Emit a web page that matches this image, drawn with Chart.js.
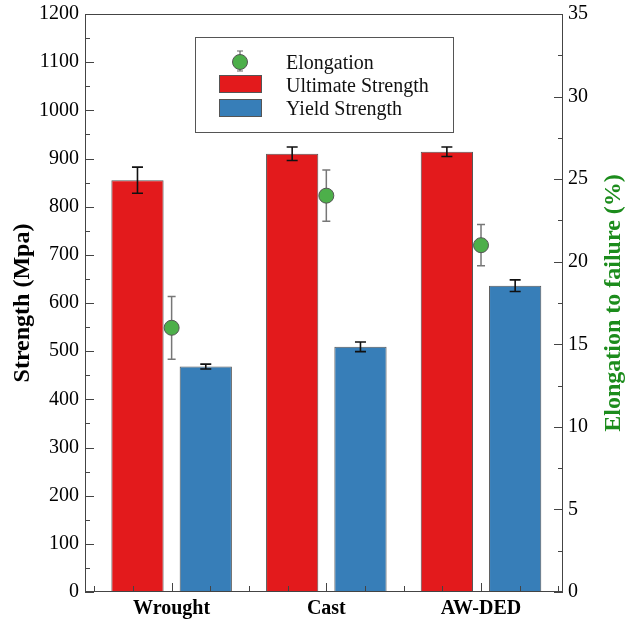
<!DOCTYPE html>
<html>
<head>
<meta charset="utf-8">
<script src="https://cdn.jsdelivr.net/npm/chart.js@4"></script>
<style>
  html, body { margin: 0; padding: 0; background: #fff; }
  canvas { display: block; }
</style>
</head>
<body>
<canvas id="chart" width="627" height="619"></canvas>
<script>
  "use strict";
  const categories = ["Wrought", "Cast", "AW-DED"];
  const ultimate = [855, 910, 914];
  const ultimateErr = [27, 14, 10];
  const yieldStr = [468, 509, 636];
  const yieldErr = [5, 10, 12];
  const elongation = [16, 24, 21];
  const elongationErr = [1.9, 1.55, 1.25];
  const legendLabels = ["Elongation", "Ultimate Strength", "Yield Strength"];

  const RED = "#e31a1c";
  const BLUE = "#377eb8";
  const GREEN = "#4daf4a";
  const FONT = "'Liberation Serif', 'Times New Roman', serif";

  const xy = (arr) => arr.map((v, i) => ({ x: i + 1, y: v }));

  function errorBar(ctx, x, yTop, yBot, cap, color, width) {
    ctx.save();
    ctx.strokeStyle = color;
    ctx.lineWidth = width;
    ctx.beginPath();
    ctx.moveTo(x, yTop); ctx.lineTo(x, yBot);
    ctx.moveTo(x - cap, yTop); ctx.lineTo(x + cap, yTop);
    ctx.moveTo(x - cap, yBot); ctx.lineTo(x + cap, yBot);
    ctx.stroke();
    ctx.restore();
  }

  const errorBars = {
    id: "errorBars",
    beforeDatasetsDraw(chart) {
      const { ctx, scales } = chart;
      elongation.forEach((v, i) => {
        const x = scales.x.getPixelForValue(i + 1);
        errorBar(ctx, x, scales.y1.getPixelForValue(v + elongationErr[i]),
          scales.y1.getPixelForValue(v - elongationErr[i]), 4, "#777", 1.5);
      });
    },
    afterDatasetsDraw(chart) {
      const { ctx, scales } = chart;
      [[0, ultimate, ultimateErr], [1, yieldStr, yieldErr]].forEach(([di, vals, errs]) => {
        const meta = chart.getDatasetMeta(di);
        vals.forEach((v, i) => {
          const x = meta.data[i].x;
          errorBar(ctx, x, scales.y.getPixelForValue(v + errs[i]),
            scales.y.getPixelForValue(v - errs[i]), 5.5, "#111", 1.6);
        });
      });
    },
  };

  const frame = {
    id: "frame",
    afterDraw(chart) {
      const { ctx, chartArea: a, scales } = chart;
      ctx.save();
      ctx.strokeStyle = "#444";
      ctx.lineWidth = 1;
      ctx.strokeRect(a.left + 0.5, a.top + 0.5, a.right - a.left - 1, a.bottom - a.top - 1);
      ctx.beginPath();
      // left axis ticks, inward
      for (let v = 0; v <= 1200; v += 50) {
        const y = Math.round(scales.y.getPixelForValue(v)) + 0.5;
        const len = v % 100 === 0 ? 9 : 5;
        ctx.moveTo(a.left, y); ctx.lineTo(a.left + len, y);
      }
      // right axis ticks
      for (let v = 0; v <= 35; v += 2.5) {
        const y = Math.round(scales.y1.getPixelForValue(v)) + 0.5;
        const len = v % 5 === 0 ? 9 : 5;
        ctx.moveTo(a.right, y); ctx.lineTo(a.right - len, y);
      }
      // bottom ticks
      for (let v = 0.5; v <= 3.5; v += 0.25) {
        const x = Math.round(scales.x.getPixelForValue(v)) + 0.5;
        const len = v % 1 === 0 ? 9 : 6;
        ctx.moveTo(x, a.bottom); ctx.lineTo(x, a.bottom - len);
      }
      ctx.stroke();

      // right axis title, reads bottom to top
      ctx.fillStyle = "#1c8c1c";
      ctx.font = "bold 24px " + FONT;
      ctx.textAlign = "center";
      ctx.textBaseline = "middle";
      ctx.translate(614, (a.top + a.bottom) / 2);
      ctx.rotate(-Math.PI / 2);
      ctx.fillText("Elongation to failure (%)", 0, 0);
      ctx.restore();

      // legend box
      ctx.save();
      ctx.fillStyle = "#fff";
      ctx.fillRect(195, 37, 258, 95);
      ctx.strokeStyle = "#555";
      ctx.lineWidth = 1;
      ctx.strokeRect(195.5, 37.5, 258, 95);
      errorBar(ctx, 240, 51, 71, 3, "#666", 1.2);
      ctx.beginPath();
      ctx.arc(240, 62, 7.5, 0, Math.PI * 2);
      ctx.fillStyle = GREEN;
      ctx.fill();
      ctx.strokeStyle = "#555";
      ctx.stroke();
      [[RED, 75], [BLUE, 99]].forEach(([c, y]) => {
        ctx.fillStyle = c;
        ctx.fillRect(219, y, 42, 17);
        ctx.strokeRect(219.5, y + 0.5, 42, 17);
      });
      ctx.fillStyle = "#111";
      ctx.font = "20px " + FONT;
      ctx.textAlign = "left";
      ctx.textBaseline = "alphabetic";
      legendLabels.forEach((t, i) => ctx.fillText(t, 286, 69 + i * 23));
      ctx.restore();
    },
  };

  function fitVertical(width) {
    return (s) => { s.width = width; s.paddingTop = 0; s.paddingBottom = 0; };
  }

  new Chart(document.getElementById("chart"), {
    type: "bar",
    data: {
      datasets: [
        { label: "Ultimate Strength", data: xy(ultimate), backgroundColor: RED,
          borderColor: "#555", borderWidth: 1, yAxisID: "y", order: 1 },
        { label: "Yield Strength", data: xy(yieldStr), backgroundColor: BLUE,
          borderColor: "#555", borderWidth: 1, yAxisID: "y", order: 1 },
        { type: "line", label: "Elongation", data: xy(elongation), showLine: false,
          pointRadius: 7.5, pointBackgroundColor: GREEN, pointBorderColor: "#555",
          pointBorderWidth: 1, yAxisID: "y1", order: 0 },
      ],
    },
    options: {
      responsive: false,
      animation: false,
      categoryPercentage: 0.883,
      barPercentage: 0.765,
      layout: { padding: { top: 14, left: 0, right: 0, bottom: 0 } },
      plugins: { legend: { display: false }, tooltip: { enabled: false } },
      scales: {
        x: {
          type: "linear", min: 0.44, max: 3.53, offset: false,
          grid: { display: false, drawTicks: false, offset: false }, border: { display: false },
          afterBuildTicks: (s) => { s.ticks = [1, 2, 3].map((v) => ({ value: v })); },
          afterFit: (s) => { s.height = 27; s.paddingLeft = 0; s.paddingRight = 0; },
          ticks: {
            padding: 5, color: "#000", maxRotation: 0,
            font: { family: FONT, size: 20, weight: "bold" },
            callback: (v) => categories[v - 1],
          },
        },
        y: {
          position: "left", min: 0, max: 1200,
          grid: { display: false, drawTicks: false }, border: { display: false },
          afterFit: fitVertical(85),
          ticks: { stepSize: 100, padding: 6, color: "#000", font: { family: FONT, size: 20 },
            callback: (v) => String(v) },
          title: { display: true, text: "Strength (Mpa)", color: "#000", padding: { top: 8, bottom: 0 },
            font: { family: FONT, size: 24, weight: "bold" } },
        },
        y1: {
          position: "right", min: 0, max: 35,
          grid: { display: false, drawTicks: false }, border: { display: false },
          afterFit: fitVertical(64),
          ticks: { stepSize: 5, padding: 5, color: "#000", font: { family: FONT, size: 20 },
            callback: (v) => String(v) },
        },
      },
    },
    plugins: [errorBars, frame],
  });
</script>
</body>
</html>
